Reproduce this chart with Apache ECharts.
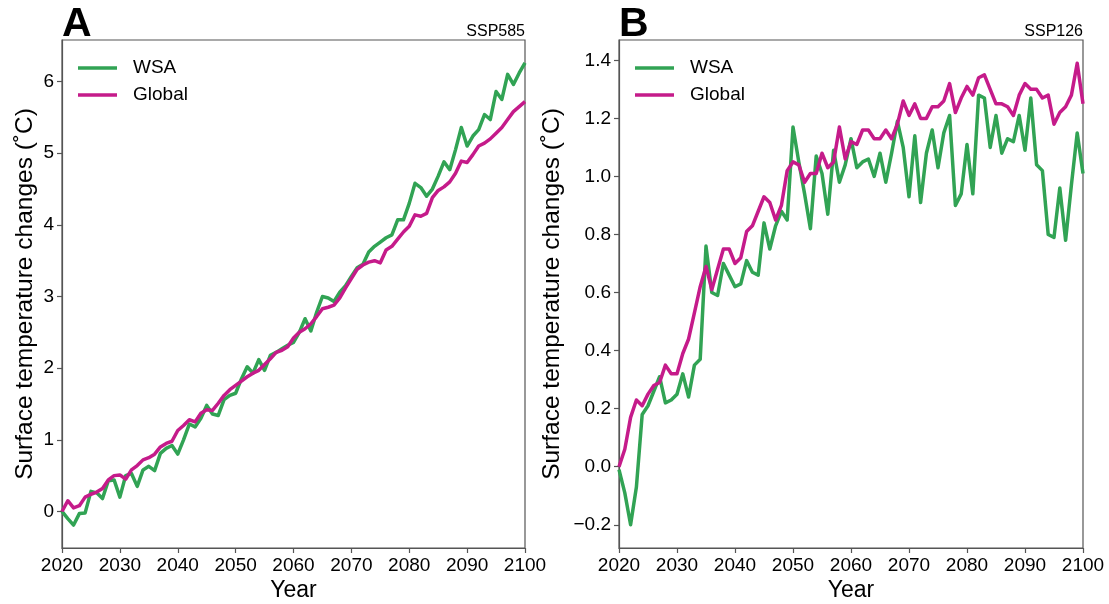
<!DOCTYPE html>
<html>
<head>
<meta charset="utf-8">
<title>Surface temperature changes, SSP585 and SSP126</title>
<script src="https://cdn.jsdelivr.net/npm/echarts@6/dist/echarts.min.js"></script>
<style>
  html, body { margin: 0; padding: 0; background: #fff; }
  #chart { width: 1109px; height: 604px; }
</style>
</head>
<body>
<div id="chart"></div>
<script>
// Years 2020–2100 (annual)
const years = [
  2020, 2021, 2022, 2023, 2024, 2025, 2026, 2027, 2028, 2029,
  2030, 2031, 2032, 2033, 2034, 2035, 2036, 2037, 2038, 2039,
  2040, 2041, 2042, 2043, 2044, 2045, 2046, 2047, 2048, 2049,
  2050, 2051, 2052, 2053, 2054, 2055, 2056, 2057, 2058, 2059,
  2060, 2061, 2062, 2063, 2064, 2065, 2066, 2067, 2068, 2069,
  2070, 2071, 2072, 2073, 2074, 2075, 2076, 2077, 2078, 2079,
  2080, 2081, 2082, 2083, 2084, 2085, 2086, 2087, 2088, 2089,
  2090, 2091, 2092, 2093, 2094, 2095, 2096, 2097, 2098, 2099,
  2100
];

// Panel A — SSP585 (°C)
const wsaSsp585 = [
  0.00, -0.10, -0.19, -0.03, -0.02, 0.28, 0.26, 0.18, 0.43, 0.44,
  0.20, 0.50, 0.53, 0.35, 0.58, 0.63, 0.57, 0.81, 0.88, 0.92,
  0.80, 1.00, 1.22, 1.18, 1.30, 1.48, 1.36, 1.34, 1.56, 1.62,
  1.65, 1.85, 2.02, 1.93, 2.12, 1.97, 2.18, 2.22, 2.27, 2.32,
  2.36, 2.50, 2.69, 2.52, 2.78, 3.00, 2.98, 2.93, 3.06, 3.15,
  3.28, 3.40, 3.45, 3.62, 3.70, 3.76, 3.82, 3.86, 4.07, 4.07,
  4.30, 4.58, 4.52, 4.40, 4.50, 4.68, 4.88, 4.77, 5.05, 5.36,
  5.10, 5.24, 5.33, 5.54, 5.47, 5.86, 5.75, 6.10, 5.96, 6.12,
  6.26
];
const globalSsp585 = [
  0.00, 0.15, 0.05, 0.08, 0.20, 0.24, 0.27, 0.32, 0.44, 0.50,
  0.51, 0.45, 0.58, 0.64, 0.72, 0.75, 0.80, 0.90, 0.95, 0.98,
  1.13, 1.20, 1.28, 1.25, 1.37, 1.42, 1.41, 1.51, 1.62, 1.70,
  1.76, 1.82, 1.88, 1.93, 1.97, 2.05, 2.13, 2.22, 2.25, 2.30,
  2.42, 2.50, 2.55, 2.62, 2.72, 2.83, 2.85, 2.88, 2.98, 3.12,
  3.25, 3.38, 3.44, 3.48, 3.50, 3.47, 3.65, 3.70, 3.80, 3.90,
  3.98, 4.14, 4.12, 4.16, 4.38, 4.48, 4.53, 4.60, 4.72, 4.89,
  4.87, 4.98, 5.10, 5.14, 5.20, 5.28, 5.36, 5.47, 5.58, 5.65,
  5.72
];

// Panel B — SSP126 (°C)
const wsaSsp126 = [
  -0.01, -0.09, -0.20, -0.07, 0.18, 0.21, 0.26, 0.31, 0.22, 0.23,
  0.25, 0.32, 0.24, 0.35, 0.37, 0.76, 0.60, 0.59, 0.70, 0.66,
  0.62, 0.63, 0.71, 0.67, 0.66, 0.84, 0.75, 0.83, 0.88, 0.85,
  1.17, 1.05, 0.94, 0.82, 1.07, 1.01, 0.87, 1.09, 0.98, 1.04,
  1.13, 1.03, 1.05, 1.06, 1.00, 1.08, 0.98, 1.08, 1.19, 1.10,
  0.93, 1.14, 0.91, 1.08, 1.16, 1.03, 1.15, 1.21, 0.90, 0.94,
  1.11, 0.94, 1.28, 1.27, 1.10, 1.21, 1.08, 1.13, 1.12, 1.21,
  1.09, 1.27, 1.04, 1.02, 0.80, 0.79, 0.96, 0.78, 0.97, 1.15,
  1.01
];
const globalSsp126 = [
  0.00, 0.06, 0.17, 0.23, 0.21, 0.25, 0.28, 0.29, 0.35, 0.32,
  0.32, 0.39, 0.44, 0.53, 0.62, 0.69, 0.61, 0.68, 0.75, 0.75,
  0.70, 0.72, 0.81, 0.83, 0.88, 0.93, 0.91, 0.85, 0.90, 1.02,
  1.05, 1.04, 0.98, 1.01, 1.01, 1.08, 1.03, 1.05, 1.17, 1.06,
  1.12, 1.11, 1.16, 1.16, 1.13, 1.13, 1.16, 1.13, 1.18, 1.26,
  1.21, 1.25, 1.20, 1.20, 1.24, 1.24, 1.26, 1.32, 1.22, 1.27,
  1.31, 1.28, 1.34, 1.35, 1.30, 1.25, 1.25, 1.24, 1.21, 1.28,
  1.32, 1.30, 1.30, 1.27, 1.28, 1.18, 1.22, 1.24, 1.28, 1.39,
  1.25
];

// Tick values
const yTicksA = [0, 1, 2, 3, 4, 5, 6];
const yTicksB = [-0.2, 0, 0.2, 0.4, 0.6, 0.8, 1.0, 1.2, 1.4];

const seriesNames = ['WSA', 'Global'];
const panelTags = ['A', 'B'];
const scenarios = ['SSP585', 'SSP126'];

const GREEN = '#31a354';
const MAGENTA = '#c51b8a';
const SPINE = '#555555';
const FONT = 'Liberation Sans, Arial, sans-serif';

const pairs = vals => years.map((y, i) => [y, vals[i]]);

const fmtB = v => (v < 0 ? '\u2212' : '') + Math.abs(v).toFixed(1);

function xAxisFor(gridIndex) {
  return {
    type: 'value', gridIndex,
    min: 2020, max: 2100, interval: 10,
    axisLine: { show: true, onZero: false, lineStyle: { color: SPINE, width: 1.2 } },
    axisTick: { show: true, length: 5, lineStyle: { color: SPINE, width: 1.2 } },
    axisLabel: { fontSize: 19, color: '#000', fontFamily: FONT, margin: 8,
                 showMinLabel: true, showMaxLabel: true, formatter: v => String(v) },
    splitLine: { show: false },
    name: 'Year', nameLocation: 'middle', nameGap: 31, nameMoveOverlap: false,
    nameTextStyle: { fontSize: 23, color: '#000', fontFamily: FONT }
  };
}

function yAxisFor(gridIndex, min, max, ticks, fmt, gap) {
  return {
    type: 'value', gridIndex, min, max,
    axisLine: { show: true, onZero: false, lineStyle: { color: SPINE, width: 1.2 } },
    axisTick: { show: true, length: 5, customValues: ticks, lineStyle: { color: SPINE, width: 1.2 } },
    axisLabel: { fontSize: 19, color: '#000', fontFamily: FONT, margin: 8,
                 customValues: ticks, formatter: fmt },
    splitLine: { show: false },
    name: 'Surface temperature changes (\u02DAC)', nameLocation: 'middle', nameGap: gap,
    nameMoveOverlap: false,
    nameTextStyle: { fontSize: 24.5, color: '#000', fontFamily: FONT }
  };
}

function lineSeries(name, vals, color, idx) {
  return {
    type: 'line', name, data: pairs(vals),
    xAxisIndex: idx, yAxisIndex: idx,
    symbol: 'none', showSymbol: false,
    lineStyle: { color, width: 3.5, join: 'round' },
    itemStyle: { color },
    animation: false
  };
}

function legendAt(left) {
  return {
    data: seriesNames, orient: 'vertical', left, top: 53,
    icon: 'rect', itemWidth: 39, itemHeight: 3.5, itemGap: 7,
    textStyle: { fontSize: 19, lineHeight: 20, color: '#000', fontFamily: FONT, padding: [0, 0, 0, 11] },
    selectedMode: false
  };
}

function gridAt(left, right) {
  return {
    left, right, top: 40, bottom: 56,
    outerBoundsMode: 'none', containLabel: false,
    show: true, borderColor: SPINE, borderWidth: 1.2, backgroundColor: 'transparent'
  };
}

const chart = echarts.init(document.getElementById('chart'), null, { renderer: 'canvas' });

chart.setOption({
  backgroundColor: '#fff',
  animation: false,
  textStyle: { fontFamily: FONT },
  grid: [gridAt(62, 584), gridAt(619, 26)],
  xAxis: [xAxisFor(0), xAxisFor(1)],
  yAxis: [
    yAxisFor(0, -0.51, 6.58, yTicksA, v => String(v), 24),
    yAxisFor(1, -0.28, 1.47, yTicksB, fmtB, 54)
  ],
  legend: [legendAt(73), legendAt(630)],
  series: [
    lineSeries(seriesNames[0], wsaSsp585, GREEN, 0),
    lineSeries(seriesNames[1], globalSsp585, MAGENTA, 0),
    lineSeries(seriesNames[0], wsaSsp126, GREEN, 1),
    lineSeries(seriesNames[1], globalSsp126, MAGENTA, 1)
  ],
  graphic: [
    { type: 'text', left: 62, top: 4, style: { text: panelTags[0], font: 'bold 41px ' + FONT, fill: '#000' } },
    { type: 'text', right: 584, top: 24, style: { text: scenarios[0], font: '16px ' + FONT, fill: '#000' } },
    { type: 'text', left: 619, top: 4, style: { text: panelTags[1], font: 'bold 41px ' + FONT, fill: '#000' } },
    { type: 'text', right: 26, top: 24, style: { text: scenarios[1], font: '16px ' + FONT, fill: '#000' } }
  ]
});
</script>
</body>
</html>
